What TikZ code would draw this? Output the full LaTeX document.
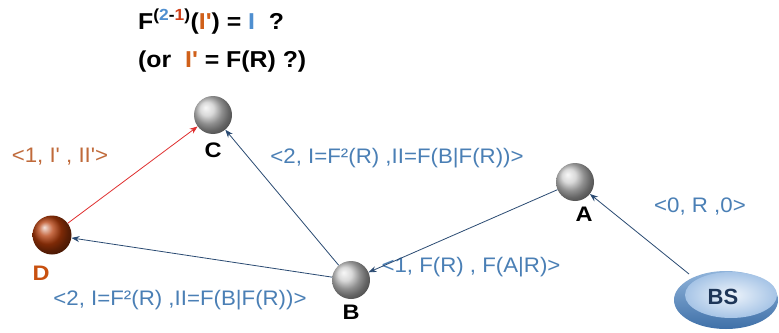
\documentclass[tikz,border=0pt]{standalone}
\usepackage{fontspec}
\setmainfont{Liberation Sans}
\newfontfamily\lblfont[FakeStretch=1.06]{Liberation Sans}
\newfontfamily\ttlfont[FakeStretch=1.08]{Liberation Sans}
\newfontfamily\ltrfont[FakeStretch=1.12]{Liberation Sans}
\usetikzlibrary{arrows.meta,shapes.geometric,shadings}
\definecolor{lblue}{HTML}{4A7FB5}
\definecolor{lorange}{HTML}{C06A3A}
\definecolor{navy}{HTML}{2A4A72}
\definecolor{bsnavy}{HTML}{1E3658}
\definecolor{tblue}{HTML}{4F8FD0}
\definecolor{tred}{HTML}{D0401A}
\definecolor{torange}{HTML}{D0601A}
\definecolor{dorange}{HTML}{C8500F}
\definecolor{dball}{HTML}{B43C0A}
\definecolor{bsouter}{HTML}{3F70A8}
\definecolor{bsouterlt}{HTML}{8FB3DA}
\definecolor{bsin}{HTML}{EEF4FB}
\definecolor{bsmid}{HTML}{A6C4E6}
\definecolor{redline}{HTML}{E03030}
\begin{document}
\begin{tikzpicture}[x=1pt,y=-1pt,
  ball/.style={circle,minimum size=38pt,inner sep=0pt,shading=ball,ball color=gray!40},
  dballs/.style={circle,minimum size=39pt,inner sep=0pt,shading=ball,ball color=dball},
  nlabel/.style={font=\ltrfont\fontsize{21}{21}\selectfont\bfseries},
  elabel/.style={font=\lblfont\fontsize{21}{22}\selectfont,text=lblue,inner sep=0pt},
  conn/.style={draw=navy,line width=0.8pt,-{Stealth[length=8pt,width=6pt]}},
  title/.style={font=\ttlfont\fontsize{23}{25}\selectfont\bfseries,inner sep=0pt,anchor=west}]
\useasboundingbox (0,0) rectangle (779,332);
\fill[white] (0,0) rectangle (779,332);
% title
\node[title] (t1) at (138,22) {F\textsuperscript{(\textcolor{tblue}{2}-\textcolor{tred}{1})}(\textcolor{torange}{I'}) = \textcolor{tblue}{I}\ \ ?};
\node[title] (t2) at (138,62) {(or \ \textcolor{torange}{I'} = F(R) ?)};
% nodes
\node[ball] (C) at (213,115) {};
\node[ball] (B) at (351,280) {};
\node[ball] (A) at (575,182) {};
\node[dballs] (D) at (52,235) {};
% BS
\shade[top color=bsouterlt,bottom color=bsouter] (726,300) ellipse [x radius=52pt,y radius=29pt];
\shade[inner color=bsin,outer color=bsmid] (731,295) ellipse [x radius=46pt,y radius=23pt];
\node[ellipse,minimum width=104pt,minimum height=58pt,inner sep=0pt] (BS) at (726,300) {};
\node[font=\fontsize{22}{22}\selectfont\bfseries,text=bsnavy,inner sep=0pt] (BSt) at (723,297) {BS};
% node labels
\node[nlabel] (Cl) at (213,150) {C};
\node[nlabel] (Bl) at (351,312) {B};
\node[nlabel] (Al) at (584,214) {A};
\node[nlabel,text=dorange] (Dl) at (41,273) {D};
% edge labels
\node[elabel,text=lorange] (l1) at (60,157) {<1, I' , II'>};
\node[elabel] (l2) at (397,158) {<2, I=F²(R) ,II=F(B|F(R))>};
\node[elabel] (l3) at (471,267) {<1, F(R) , F(A|R)>};
\node[elabel] (l4) at (180,300) {<2, I=F²(R) ,II=F(B|F(R))>};
\node[elabel] (l5) at (700,207) {<0, R ,0>};
% connectors
\coordinate (bsn) at (689,274);
\draw[conn,draw=redline] (D) -- (C);
\draw[conn] (B) -- (C);
\draw[conn] (B) -- (D);
\draw[conn] (A) -- (B);
\draw[conn] (bsn) -- (A);
\end{tikzpicture}
\end{document}
